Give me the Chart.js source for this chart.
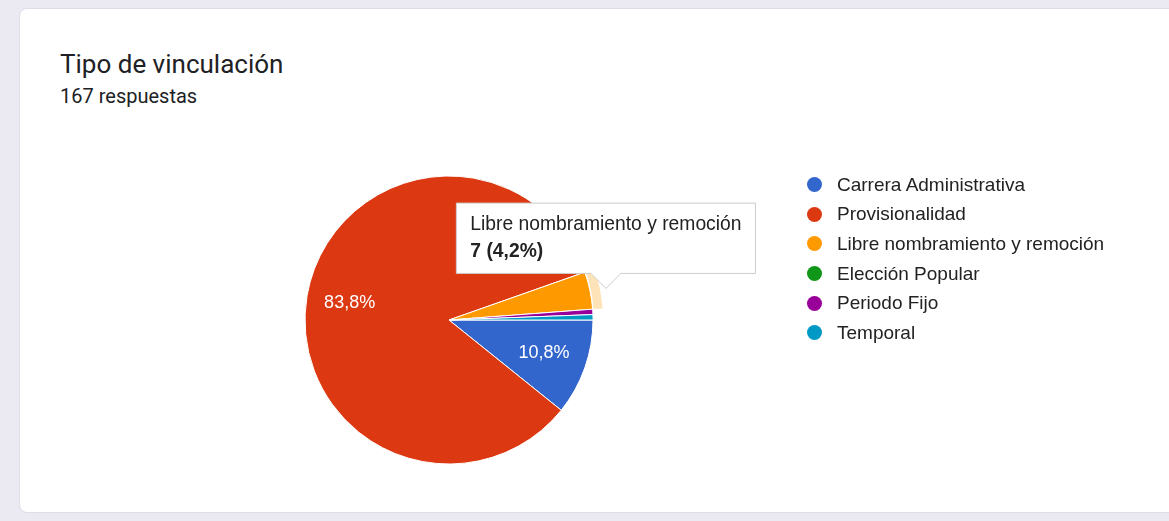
<!DOCTYPE html>
<html lang="es">
<head>
<meta charset="utf-8">
<title>Tipo de vinculación</title>
<script src="https://cdn.jsdelivr.net/npm/chart.js@4.4.1/dist/chart.umd.min.js"></script>
<style>
  html, body { margin: 0; padding: 0; }
  body { width: 1169px; height: 521px; background: #ebeaf3; position: relative; overflow: hidden; }
  .tarjeta {
    position: absolute; left: 19px; top: 8px; width: 1200px; height: 505px;
    background: #fff; border: 1px solid #dedde6; border-radius: 8px; box-sizing: border-box;
  }
  .titulo {
    position: absolute; left: 60px; top: 51px; font-family: Roboto, Arial, sans-serif;
    font-size: 26px; line-height: 26px; color: #202124; white-space: nowrap;
  }
  .subtitulo {
    position: absolute; left: 60px; top: 86px; font-family: Roboto, Arial, sans-serif;
    font-size: 20px; line-height: 20px; color: #202124; white-space: nowrap;
  }
  #grafico { position: absolute; left: 0; top: 0; }
  #leyenda { position: absolute; left: 807px; top: 170px; margin: 0; padding: 0; list-style: none; }
  #leyenda li {
    height: 29.6px; display: flex; align-items: center;
    font-family: Arial, "Liberation Sans", sans-serif; font-size: 19px; color: #222; white-space: nowrap;
  }
  #leyenda span { width: 15px; height: 15px; border-radius: 50%; margin-right: 15px; flex: none; }
</style>
</head>
<body>
<div class="tarjeta"></div>
<div class="titulo">Tipo de vinculación</div>
<div class="subtitulo">167 respuestas</div>
<canvas id="grafico" width="1169" height="521"></canvas>
<ul id="leyenda"></ul>

<script>
// Datos de la pregunta
const etiquetas = ['Carrera Administrativa', 'Provisionalidad', 'Libre nombramiento y remoción', 'Elección Popular', 'Periodo Fijo', 'Temporal'];
const respuestas = [18, 140, 7, 0, 1, 1];
const colores = ['#3366cc', '#dc3912', '#ff9900', '#109618', '#990099', '#0099c6'];
const totalRespuestas = 167;

function porcentaje(valor) {
  return (valor / totalRespuestas * 100).toFixed(1).replace('.', ',') + '%';
}

// Leyenda a la derecha
const leyenda = document.getElementById('leyenda');
etiquetas.forEach(function(texto, i) {
  const li = document.createElement('li');
  const punto = document.createElement('span');
  punto.style.background = colores[i];
  li.appendChild(punto);
  li.appendChild(document.createTextNode(texto));
  leyenda.appendChild(li);
});

// Porcentajes dentro de las porciones grandes
const textoPorciones = {
  id: 'textoPorciones',
  afterDatasetsDraw(chart) {
    const ctx = chart.ctx;
    const meta = chart.getDatasetMeta(0);
    ctx.save();
    ctx.font = '18px Arial, "Liberation Sans", sans-serif';
    ctx.fillStyle = '#ffffff';
    ctx.textAlign = 'center';
    ctx.textBaseline = 'middle';
    meta.data.forEach(function(arco, i) {
      if (respuestas[i] / totalRespuestas < 0.1) return;
      const medio = (arco.startAngle + arco.endAngle) / 2;
      const r = arco.outerRadius * 0.7;
      ctx.fillText(porcentaje(respuestas[i]), arco.x + Math.cos(medio) * r, arco.y + Math.sin(medio) * r);
    });
    ctx.restore();
  }
};

// Anillo claro alrededor de la porción señalada
const anilloActivo = {
  id: 'anilloActivo',
  afterDatasetsDraw(chart) {
    const activos = chart.tooltip.getActiveElements();
    if (!activos.length) return;
    const arco = activos[0].element;
    const ctx = chart.ctx;
    ctx.save();
    ctx.beginPath();
    ctx.arc(arco.x, arco.y, arco.outerRadius + 10, arco.startAngle, arco.endAngle);
    ctx.arc(arco.x, arco.y, arco.outerRadius + 1, arco.endAngle, arco.startAngle, true);
    ctx.closePath();
    ctx.fillStyle = 'rgba(255, 153, 0, 0.28)';
    ctx.fill();
    ctx.restore();
  }
};

// El globo apunta al borde exterior de la porción
Chart.Tooltip.positioners.borde = function(items) {
  if (!items.length) return false;
  const arco = items[0].element;
  const medio = (arco.startAngle + arco.endAngle) / 2;
  return {
    x: arco.x + Math.cos(medio) * arco.outerRadius + 16,
    y: arco.y + Math.sin(medio) * arco.outerRadius
  };
};

const ctx = document.getElementById('grafico').getContext('2d');
const graficoVinculacion = new Chart(ctx, {
  type: 'pie',
  data: {
    labels: etiquetas,
    datasets: [{
      data: respuestas,
      backgroundColor: colores,
      borderColor: '#ffffff',
      borderWidth: 1,
      hoverOffset: 0
    }]
  },
  options: {
    responsive: false,
    animation: false,
    events: [],
    rotation: 90,
    layout: {
      padding: { left: 304.5, right: 575.5, top: 175.5, bottom: 56.5 }
    },
    plugins: {
      legend: { display: false },
      tooltip: {
        position: 'borde',
        xAlign: 'center',
        yAlign: 'bottom',
        backgroundColor: '#ffffff',
        borderColor: '#cccccc',
        borderWidth: 1,
        cornerRadius: 0,
        caretSize: 15,
        caretPadding: 2,
        displayColors: false,
        padding: { top: 10, bottom: 10, left: 14, right: 14 },
        titleColor: '#222222',
        bodyColor: '#222222',
        titleFont: { family: 'Arial', size: 19.3, weight: 'normal' },
        bodyFont: { family: 'Arial', size: 19.3, weight: 'bold' },
        titleMarginBottom: 4,
        callbacks: {
          title: function(items) { return items[0].label; },
          label: function(item) { return item.raw + ' (' + porcentaje(item.raw) + ')'; }
        }
      }
    }
  },
  plugins: [textoPorciones, anilloActivo]
});

// Globo fijo sobre "Libre nombramiento y remoción"
graficoVinculacion.tooltip.setActiveElements([{ datasetIndex: 0, index: 2 }], { x: 0, y: 0 });
graficoVinculacion.update();
</script>
</body>
</html>
